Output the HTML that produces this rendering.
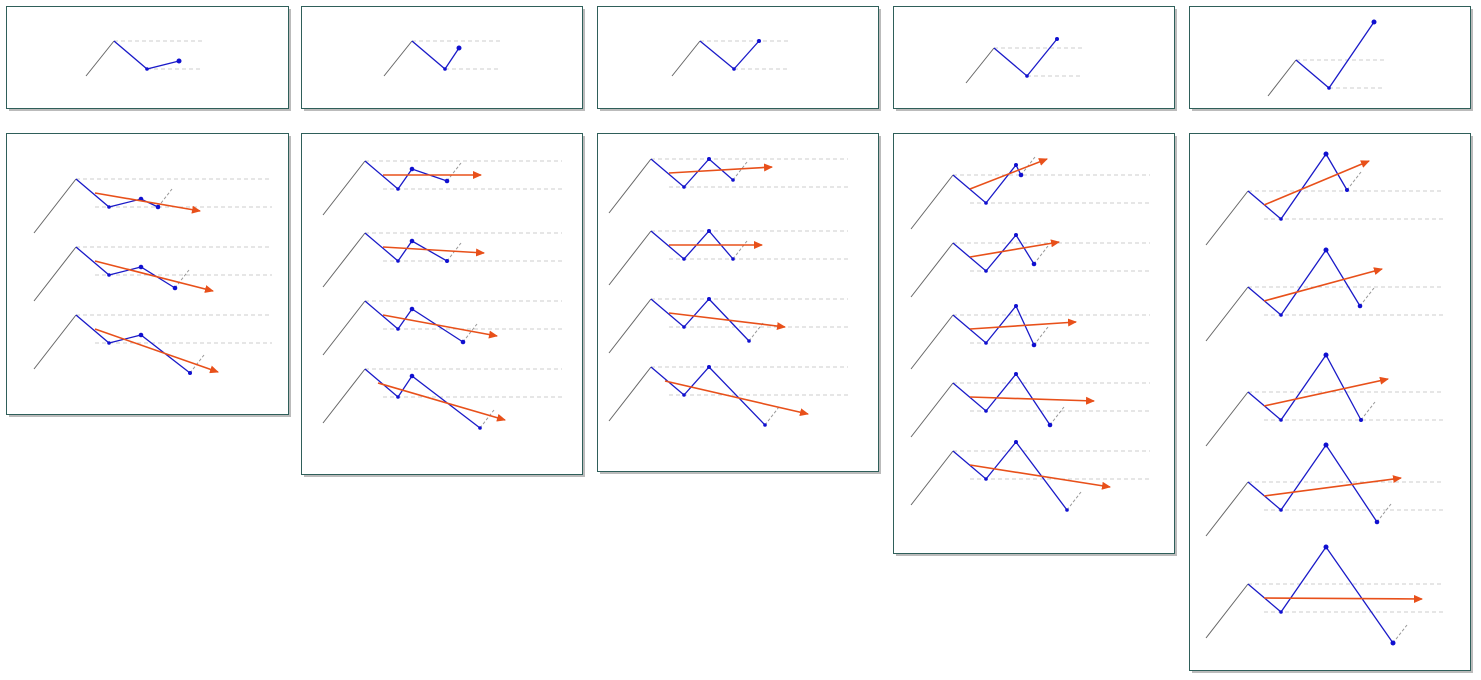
<!DOCTYPE html><html><head><style>body{margin:0;background:#fff}svg{display:block}</style></head><body>
<svg width="1481" height="680" xmlns="http://www.w3.org/2000/svg">
<defs><marker id="a" markerWidth="9" markerHeight="8" refX="8" refY="4" orient="auto" markerUnits="userSpaceOnUse"><path d="M0,0L9,4L0,8z" fill="#e8501a"/></marker></defs>
<g fill="#bbb">
<rect x="9" y="9" width="282" height="102"/><rect x="304" y="9" width="281" height="102"/><rect x="600" y="9" width="281" height="102"/><rect x="896" y="9" width="281" height="102"/><rect x="1192" y="9" width="281" height="102"/>
<rect x="9" y="136" width="282" height="281"/><rect x="304" y="136" width="281" height="341"/><rect x="600" y="136" width="281" height="338"/><rect x="896" y="136" width="281" height="420"/><rect x="1192" y="136" width="281" height="537"/>
</g>
<g fill="#fff" stroke="#2f5f5a" stroke-width="1">
<rect x="6.5" y="6.5" width="282" height="102"/><rect x="301.5" y="6.5" width="281" height="102"/><rect x="597.5" y="6.5" width="281" height="102"/><rect x="893.5" y="6.5" width="281" height="102"/><rect x="1189.5" y="6.5" width="281" height="102"/>
<rect x="6.5" y="133.5" width="282" height="281"/><rect x="301.5" y="133.5" width="281" height="341"/><rect x="597.5" y="133.5" width="281" height="338"/><rect x="893.5" y="133.5" width="281" height="420"/><rect x="1189.5" y="133.5" width="281" height="537"/>
</g>
<path fill="none" stroke="#ccc" stroke-width="1" stroke-dasharray="4,3" d="M114,41H204M147,69H201M412,41H502M445,69H500M700,41H790M734,69H788M994,48H1083M1027,76H1083M1296,60H1385M1329,88H1385
M76,179H272M95,207H272M76,247H272M95,275H272M76,315H272M95,343H272
M365,161H562M383,189H562M365,233H562M383,261H562M365,301H562M383,329H562M365,369H562M383,397H562
M651,159H848M669,187H848M651,231H848M669,259H848M651,299H848M669,327H848M651,367H848M669,395H848
M953,175H1150M970,203H1150M953,243H1150M970,271H1150M953,315H1150M970,343H1150M953,383H1150M970,411H1150M953,451H1150M970,479H1150
M1248,191H1444M1264,219H1444M1248,287H1444M1264,315H1444M1248,392H1444M1264,420H1444M1248,482H1444M1264,510H1444M1248,584H1444M1264,612H1444"/>
<path fill="none" stroke="#666" stroke-width="1" d="M86,76L114,41M384,76L412,41M672,76L700,41M966,83L994,48M1268,96L1296,60
M34,233L76,179M34,301L76,247M34,369L76,315
M323,215L365,161M323,287L365,233M323,355L365,301M323,423L365,369
M609,213L651,159M609,285L651,231M609,353L651,299M609,421L651,367
M911,229L953,175M911,297L953,243M911,369L953,315M911,437L953,383M911,505L953,451
M1206,245L1248,191M1206,341L1248,287M1206,446L1248,392M1206,536L1248,482M1206,638L1248,584"/>
<path fill="none" stroke="#999" stroke-width="1" stroke-dasharray="3,2" d="M158,207L172,189M175,288L189,270M190,373L204,355
M447,181L461,163M447,261L461,243M463,342L477,324M480,428L494,410
M733,180L747,162M733,259L747,241M749,341L763,323M765,425L779,407
M1021,175L1035,157M1034,264L1048,246M1034,345L1048,327M1050,425L1064,407M1067,510L1081,492
M1347,190L1361,172M1360,306L1374,288M1361,420L1375,402M1377,522L1391,504M1393,643L1407,625"/>
<path fill="none" stroke="#1a1ac8" stroke-width="1.3" d="M114,41L147,69L179,61M412,41L445,69L459,48M700,41L734,69L759,41M994,48L1027,76L1057,39M1296,60L1329,88L1374,22
M76,179L109,207L141,199L158,207M76,247L109,275L141,267L175,288M76,315L109,343L141,335L190,373
M365,161L398,189L412,169L447,181M365,233L398,261L412,241L447,261M365,301L398,329L412,309L463,342M365,369L398,397L412,376L480,428
M651,159L684,187L709,159L733,180M651,231L684,259L709,231L733,259M651,299L684,327L709,299L749,341M651,367L684,395L709,367L765,425
M953,175L986,203L1016,165L1021,175M953,243L986,271L1016,235L1034,264M953,315L986,343L1016,306L1034,345M953,383L986,411L1016,374L1050,425M953,451L986,479L1016,442L1067,510
M1248,191L1281,219L1326,154L1347,190M1248,287L1281,315L1326,250L1360,306M1248,392L1281,420L1326,355L1361,420M1248,482L1281,510L1326,445L1377,522M1248,584L1281,612L1326,547L1393,643"/>
<g fill="#1010d0">
<circle cx="147" cy="69" r="1.8"/><circle cx="179" cy="61" r="2.5"/><circle cx="445" cy="69" r="1.8"/><circle cx="459" cy="48" r="2.5"/><circle cx="734" cy="69" r="1.8"/><circle cx="759" cy="41" r="2"/><circle cx="1027" cy="76" r="1.8"/><circle cx="1057" cy="39" r="2"/><circle cx="1329" cy="88" r="1.8"/><circle cx="1374" cy="22" r="2.5"/>
<circle cx="109" cy="207" r="1.8"/><circle cx="141" cy="199" r="2.3"/><circle cx="158" cy="207" r="2.3"/><circle cx="109" cy="275" r="1.8"/><circle cx="141" cy="267" r="2.3"/><circle cx="175" cy="288" r="2.3"/><circle cx="109" cy="343" r="1.8"/><circle cx="141" cy="335" r="2.3"/><circle cx="190" cy="373" r="2"/>
<circle cx="398" cy="189" r="1.8"/><circle cx="412" cy="169" r="2.3"/><circle cx="447" cy="181" r="2.3"/><circle cx="398" cy="261" r="1.8"/><circle cx="412" cy="241" r="2.3"/><circle cx="447" cy="261" r="2"/><circle cx="398" cy="329" r="1.8"/><circle cx="412" cy="309" r="2.3"/><circle cx="463" cy="342" r="2.3"/><circle cx="398" cy="397" r="1.8"/><circle cx="412" cy="376" r="2.3"/><circle cx="480" cy="428" r="1.8"/>
<circle cx="684" cy="187" r="1.8"/><circle cx="709" cy="159" r="2"/><circle cx="733" cy="180" r="1.8"/><circle cx="684" cy="259" r="1.8"/><circle cx="709" cy="231" r="2"/><circle cx="733" cy="259" r="1.8"/><circle cx="684" cy="327" r="1.8"/><circle cx="709" cy="299" r="2"/><circle cx="749" cy="341" r="1.8"/><circle cx="684" cy="395" r="1.8"/><circle cx="709" cy="367" r="2"/><circle cx="765" cy="425" r="1.8"/>
<circle cx="986" cy="203" r="1.8"/><circle cx="1016" cy="165" r="2"/><circle cx="1021" cy="175" r="2.3"/><circle cx="986" cy="271" r="1.8"/><circle cx="1016" cy="235" r="2"/><circle cx="1034" cy="264" r="2.3"/><circle cx="986" cy="343" r="1.8"/><circle cx="1016" cy="306" r="2"/><circle cx="1034" cy="345" r="2.3"/><circle cx="986" cy="411" r="1.8"/><circle cx="1016" cy="374" r="2"/><circle cx="1050" cy="425" r="2.3"/><circle cx="986" cy="479" r="1.8"/><circle cx="1016" cy="442" r="2"/><circle cx="1067" cy="510" r="1.8"/>
<circle cx="1281" cy="219" r="1.8"/><circle cx="1326" cy="154" r="2.5"/><circle cx="1347" cy="190" r="2"/><circle cx="1281" cy="315" r="1.8"/><circle cx="1326" cy="250" r="2.5"/><circle cx="1360" cy="306" r="2.3"/><circle cx="1281" cy="420" r="1.8"/><circle cx="1326" cy="355" r="2.5"/><circle cx="1361" cy="420" r="2"/><circle cx="1281" cy="510" r="1.8"/><circle cx="1326" cy="445" r="2.5"/><circle cx="1377" cy="522" r="2.3"/><circle cx="1281" cy="612" r="1.8"/><circle cx="1326" cy="547" r="2.5"/><circle cx="1393" cy="643" r="2.5"/>
</g>
<g fill="none" stroke="#e8501a" stroke-width="1.6" marker-end="url(#a)">
<path d="M95,193L200,211"/><path d="M95,261L213,291"/><path d="M95,329L218,372"/>
<path d="M383,175L481,175"/><path d="M383,247L484,253"/><path d="M383,315L497,336"/><path d="M378,383L505,420"/>
<path d="M669,173L772,167"/><path d="M669,245L762,245"/><path d="M669,313L785,327"/><path d="M665,381L808,414"/>
<path d="M970,189L1047,159"/><path d="M970,257L1059,242"/><path d="M970,329L1076,322"/><path d="M970,397L1094,401"/><path d="M970,465L1110,487"/>
<path d="M1264,205L1369,161"/><path d="M1264,301L1382,269"/><path d="M1264,406L1388,379"/><path d="M1264,496L1401,478"/><path d="M1264,598L1422,599"/>
</g>
</svg>
</body></html>
